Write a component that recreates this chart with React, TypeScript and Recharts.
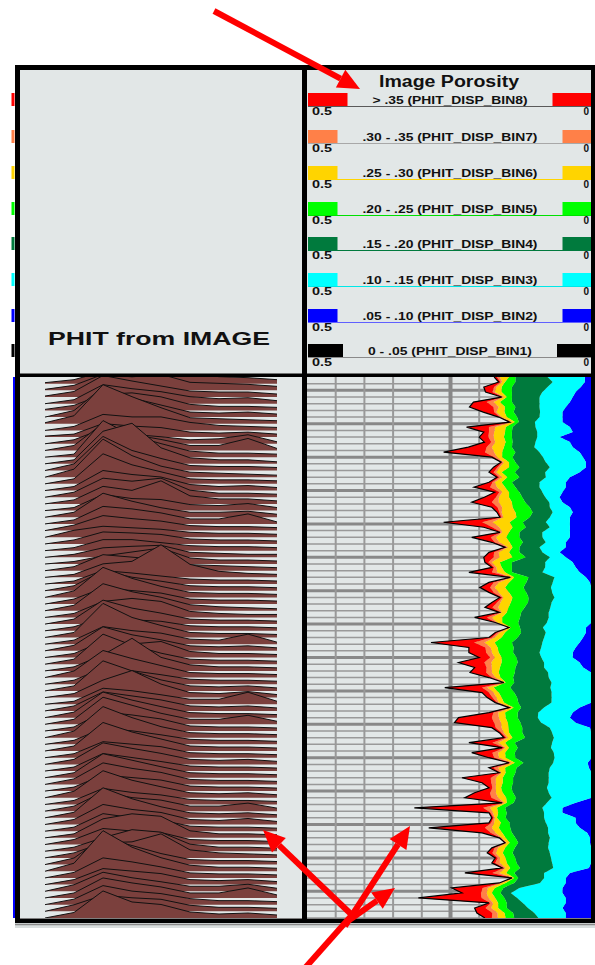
import { Area, ComposedChart, ReferenceLine, XAxis, YAxis } from "recharts";

// Depth window of the log (ft)
const TOP_DEPTH = 5346;
const BOTTOM_DEPTH = 5508;
const SAMPLE_STEP = 1.5;

// Image porosity bins (v/v), one value per depth sample, top to bottom
const bin2 = [
  0.016, 0.016, 0.023, 0.032, 0.037, 0.042, 0.049, 0.055, 0.055, 0.055, 0.042, 0.037, 0.06, 0.042, 0.037, 0.025, 0.019, 0.014, 0.014, 0.025,
  0.042, 0.049, 0.049, 0.055, 0.06, 0.055, 0.042, 0.037, 0.042, 0.042, 0.042, 0.042, 0.042, 0.049, 0.049, 0.06, 0.049, 0.037, 0.032, 0.025,
  0.014, 0.007, 0.005, 0.005, 0.004, 0.004, 0.004, 0.004, 0.004, 0.004, 0.014, 0.014, 0.019, 0.025, 0.032, 0.037, 0.037, 0.025, 0.019, 0.005,
  0.004, 0.004, 0.004, 0.004, 0.004, 0.004, 0.025, 0.037, 0.042, 0.032, 0.007, 0.005, 0.005, 0.005, 0.005, 0.005, 0.004, 0.011, 0.009, 0.004,
  0.004, 0.004, 0.004, 0.004, 0.004, 0.032, 0.055, 0.055, 0.032, 0.032, 0.025, 0.012, 0.007, 0.007, 0.005, 0.005, 0.005, 0.005, 0.009, 0.042,
  0.049, 0.049, 0.055, 0.055, 0.049, 0.049, 0.055, 0.049, 0.049,
];
const bin3 = [
  0.065, 0.056, 0.058, 0.058, 0.058, 0.053, 0.046, 0.039, 0.04, 0.048, 0.06, 0.062, 0.039, 0.06, 0.067, 0.07, 0.07, 0.07, 0.063, 0.06,
  0.042, 0.046, 0.046, 0.035, 0.025, 0.023, 0.035, 0.035, 0.035, 0.042, 0.035, 0.048, 0.048, 0.035, 0.046, 0.03, 0.028, 0.048, 0.053, 0.065,
  0.055, 0.065, 0.07, 0.068, 0.065, 0.07, 0.072, 0.075, 0.075, 0.078, 0.075, 0.07, 0.068, 0.065, 0.06, 0.058, 0.055, 0.062, 0.068, 0.075,
  0.075, 0.07, 0.072, 0.07, 0.07, 0.07, 0.062, 0.06, 0.056, 0.06, 0.07, 0.068, 0.065, 0.068, 0.07, 0.065, 0.065, 0.06, 0.068, 0.075,
  0.075, 0.075, 0.078, 0.075, 0.07, 0.05, 0.035, 0.032, 0.055, 0.052, 0.055, 0.068, 0.07, 0.072, 0.075, 0.072, 0.07, 0.068, 0.062, 0.045,
  0.038, 0.045, 0.075, 0.09, 0.085, 0.075, 0.06, 0.055, 0.048,
];
const bin4 = [
  0.056, 0.065, 0.062, 0.053, 0.048, 0.048, 0.042, 0.046, 0.039, 0.028, 0.04, 0.044, 0.044, 0.04, 0.039, 0.042, 0.053, 0.053, 0.053, 0.053,
  0.046, 0.048, 0.042, 0.04, 0.04, 0.042, 0.035, 0.035, 0.035, 0.04, 0.042, 0.04, 0.04, 0.04, 0.035, 0.04, 0.042, 0.058, 0.058, 0.053,
  0.045, 0.046, 0.048, 0.045, 0.045, 0.041, 0.045, 0.048, 0.05, 0.05, 0.04, 0.043, 0.046, 0.053, 0.048, 0.046, 0.043, 0.046, 0.05, 0.058,
  0.062, 0.065, 0.07, 0.065, 0.06, 0.058, 0.04, 0.036, 0.035, 0.036, 0.048, 0.052, 0.05, 0.065, 0.058, 0.068, 0.068, 0.052, 0.058, 0.058,
  0.062, 0.062, 0.062, 0.062, 0.062, 0.058, 0.065, 0.065, 0.067, 0.063, 0.066, 0.063, 0.06, 0.053, 0.058, 0.065, 0.062, 0.062, 0.058, 0.052,
  0.045, 0.045, 0.028, 0.018, 0.022, 0.028, 0.037, 0.037, 0.042,
];
const bin5 = [
  0.011, 0.018, 0.018, 0.018, 0.009, 0.021, 0.018, 0.016, 0.018, 0.007, 0.012, 0.012, 0.014, 0.012, 0.014, 0.023, 0.018, 0.011, 0.018, 0.023,
  0.021, 0.018, 0.018, 0.018, 0.023, 0.023, 0.03, 0.03, 0.023, 0.023, 0.023, 0.018, 0.023, 0.023, 0.012, 0.018, 0.023, 0.021, 0.018, 0.012,
  0.025, 0.03, 0.032, 0.03, 0.028, 0.03, 0.028, 0.025, 0.031, 0.028, 0.016, 0.028, 0.028, 0.03, 0.028, 0.025, 0.026, 0.028, 0.027, 0.028,
  0.022, 0.015, 0.029, 0.027, 0.027, 0.025, 0.013, 0.022, 0.021, 0.022, 0.024, 0.023, 0.022, 0.017, 0.015, 0.017, 0.017, 0.015, 0.02, 0.017,
  0.018, 0.018, 0.018, 0.018, 0.017, 0.012, 0.014, 0.015, 0.015, 0.015, 0.02, 0.017, 0.017, 0.015, 0.017, 0.017, 0.017, 0.017, 0.017, 0.014,
  0.007, 0.015, 0.015, 0.015, 0.016, 0.015, 0.015, 0.015, 0.015,
];
const bin6 = [
  0.016, 0.005, 0.009, 0.012, 0.005, 0.011, 0.011, 0.014, 0.009, 0.005, 0.018, 0.019, 0.018, 0.018, 0.021, 0.014, 0.009, 0.009, 0.016, 0.009,
  0.009, 0.012, 0.014, 0.012, 0.018, 0.023, 0.018, 0.024, 0.023, 0.03, 0.023, 0.012, 0.018, 0.018, 0.008, 0.018, 0.023, 0.014, 0.009, 0.014,
  0.004, 0.018, 0.018, 0.018, 0.016, 0.018, 0.018, 0.009, 0.018, 0.009, 0.001, 0.009, 0.012, 0.018, 0.012, 0.012, 0.012, 0.018, 0.014, 0.012,
  0.009, 0.001, 0.011, 0.009, 0.009, 0.009, 0.003, 0.012, 0.012, 0.012, 0.012, 0.009, 0.008, 0.012, 0.006, 0.012, 0.012, 0.005, 0.012, 0.008,
  0.012, 0.012, 0.009, 0.012, 0.014, 0.004, 0.012, 0.009, 0.004, 0.012, 0.012, 0.012, 0.007, 0.005, 0.012, 0.012, 0.01, 0.012, 0.008, 0.012,
  0.002, 0.007, 0.012, 0.009, 0.012, 0.009, 0.012, 0.012, 0.014,
];
const bin7 = [
  0.005, 0.003, 0.004, 0.004, 0.002, 0.012, 0.009, 0.004, 0.003, 0.002, 0.011, 0.009, 0.009, 0.007, 0.009, 0.016, 0.005, 0.003, 0.004, 0.005,
  0.005, 0.004, 0.012, 0.005, 0.005, 0.012, 0.008, 0.004, 0.003, 0.018, 0.012, 0.002, 0.009, 0.008, 0.002, 0.008, 0.01, 0.006, 0.004, 0.009,
  0.001, 0.009, 0.008, 0.009, 0.002, 0.006, 0.01, 0.002, 0.009, 0.002, 0.001, 0.004, 0.005, 0.018, 0.009, 0.01, 0.008, 0.012, 0.009, 0.01,
  0.006, 0.001, 0.009, 0.008, 0.007, 0.003, 0.001, 0.008, 0.012, 0.012, 0.01, 0.004, 0.003, 0.01, 0.002, 0.01, 0.008, 0.002, 0.008, 0.002,
  0.009, 0.008, 0.006, 0.01, 0.012, 0.002, 0.012, 0.004, 0.002, 0.005, 0.012, 0.008, 0.002, 0.002, 0.006, 0.006, 0.004, 0.008, 0.003, 0.012,
  0.001, 0.002, 0.009, 0.01, 0.012, 0.004, 0.01, 0.009, 0.01,
];
const bin8 = [
  0.005, 0.003, 0.018, 0.012, 0.002, 0.023, 0.042, 0.019, 0.002, 0.002, 0.039, 0.009, 0.016, 0.012, 0.032, 0.072, 0.004, 0.002, 0.007, 0.008,
  0.004, 0.006, 0.028, 0.008, 0.02, 0.035, 0.01, 0.004, 0.003, 0.067, 0.015, 0.002, 0.033, 0.005, 0.003, 0.009, 0.017, 0.006, 0.004, 0.04,
  0.002, 0.008, 0.018, 0.008, 0.004, 0.009, 0.013, 0.002, 0.021, 0.001, 0.001, 0.004, 0.005, 0.075, 0.029, 0.03, 0.019, 0.045, 0.021, 0.028,
  0.005, 0.001, 0.065, 0.012, 0.009, 0.003, 0.004, 0.008, 0.058, 0.069, 0.007, 0.004, 0.004, 0.041, 0.004, 0.036, 0.009, 0.003, 0.008, 0.001,
  0.05, 0.016, 0.006, 0.027, 0.046, 0.002, 0.12, 0.003, 0.003, 0.004, 0.098, 0.015, 0.002, 0.001, 0.005, 0.009, 0.004, 0.006, 0.003, 0.048,
  0.001, 0.002, 0.054, 0.033, 0.11, 0.003, 0.019, 0.027, 0.012,
];

// Grid values for the image porosity track
const porosityTicks = [0.05, 0.1, 0.15, 0.2, 0.3, 0.35, 0.4, 0.45];
const porosityMajor = [0.25];
const majorDepths = [5350, 5360, 5370, 5380, 5390, 5400, 5410, 5420, 5430, 5440, 5450, 5460, 5470, 5480, 5490, 5500];
const minorDepths: number[] = [];
for (let d = 5348; d <= BOTTOM_DEPTH; d += 2) if (!majorDepths.includes(d)) minorDepths.push(d);

// PHIT from IMAGE: porosity histogram per depth frame (fraction in each bin)
const ridgeBins = [0, 0.05, 0.1, 0.15, 0.2, 0.25, 0.3, 0.35, 0.4];
const RIDGE_TOP = 5348;
const RIDGE_STEP = 2;
const RIDGE_GAIN = 30; // ft of display height per unit fraction
const ridges: number[][] = [
  [0.01, 0.04, 0.12, 0.16, 0.19, 0.1, 0.07, 0.06, 0.04],
  [0.01, 0.05, 0.16, 0.135, 0.16, 0.08, 0.07, 0.06, 0.04],
  [0.01, 0.055, 0.215, 0.16, 0.11, 0.06, 0.05, 0.05, 0.03],
  [0, 0.04, 0.19, 0.15, 0.12, 0.07, 0.05, 0.06, 0.03],
  [0.01, 0.05, 0.16, 0.175, 0.135, 0.06, 0.04, 0.04, 0.03],
  [0, 0.065, 0.3, 0.19, 0.12, 0.05, 0.04, 0.05, 0.03],
  [0.01, 0.08, 0.39, 0.27, 0.16, 0.06, 0.05, 0.04, 0.03],
  [0, 0.04, 0.16, 0.135, 0.135, 0.08, 0.05, 0.04, 0.03],
  [0.01, 0.03, 0.135, 0.11, 0.095, 0.05, 0.04, 0.05, 0.03],
  [0, 0.04, 0.15, 0.095, 0.07, 0.04, 0.05, 0.09, 0.02],
  [0, 0.05, 0.27, 0.16, 0.11, 0.05, 0.05, 0.12, 0.02],
  [0, 0.03, 0.365, 0.215, 0.135, 0.06, 0.04, 0.04, 0.03],
  [0, 0.04, 0.325, 0.405, 0.16, 0.06, 0.04, 0.04, 0.02],
  [0, 0.065, 0.34, 0.2, 0.12, 0.05, 0.04, 0.04, 0.03],
  [0, 0.08, 0.38, 0.215, 0.11, 0.05, 0.04, 0.03, 0.02],
  [0, 0.05, 0.3, 0.19, 0.12, 0.05, 0.04, 0.04, 0.03],
  [0, 0.04, 0.2, 0.16, 0.135, 0.06, 0.04, 0.05, 0.03],
  [0, 0.05, 0.19, 0.16, 0.19, 0.07, 0.04, 0.04, 0.03],
  [0, 0.04, 0.175, 0.135, 0.23, 0.08, 0.05, 0.05, 0.03],
  [0, 0.03, 0.16, 0.12, 0.11, 0.06, 0.05, 0.07, 0.03],
  [0, 0.05, 0.24, 0.16, 0.095, 0.05, 0.05, 0.06, 0.03],
  [0, 0.04, 0.175, 0.15, 0.11, 0.05, 0.05, 0.1, 0.02],
  [0, 0.055, 0.15, 0.12, 0.095, 0.05, 0.04, 0.04, 0.03],
  [0, 0.07, 0.11, 0.095, 0.08, 0.05, 0.04, 0.04, 0.03],
  [0, 0.04, 0.12, 0.11, 0.095, 0.05, 0.04, 0.04, 0.03],
  [0, 0.03, 0.11, 0.11, 0.08, 0.05, 0.04, 0.04, 0.03],
  [0, 0.03, 0.095, 0.11, 0.12, 0.05, 0.04, 0.03, 0.03],
  [0, 0.025, 0.08, 0.12, 0.16, 0.06, 0.04, 0.04, 0.03],
  [0, 0.04, 0.16, 0.135, 0.11, 0.06, 0.05, 0.04, 0.03],
  [0, 0.03, 0.135, 0.16, 0.325, 0.13, 0.06, 0.04, 0.03],
  [0, 0.03, 0.135, 0.11, 0.08, 0.05, 0.04, 0.04, 0.03],
  [0, 0.05, 0.2, 0.135, 0.095, 0.05, 0.04, 0.04, 0.03],
  [0, 0.065, 0.3, 0.19, 0.11, 0.05, 0.04, 0.04, 0.03],
  [0, 0.05, 0.16, 0.135, 0.11, 0.05, 0.04, 0.04, 0.03],
  [0, 0.055, 0.27, 0.19, 0.135, 0.06, 0.04, 0.03, 0.02],
  [0, 0.04, 0.16, 0.19, 0.16, 0.06, 0.04, 0.03, 0.03],
  [0, 0.05, 0.24, 0.16, 0.11, 0.05, 0.04, 0.04, 0.03],
  [0, 0.04, 0.135, 0.11, 0.095, 0.05, 0.04, 0.04, 0.03],
  [0, 0.05, 0.34, 0.2, 0.12, 0.05, 0.04, 0.04, 0.03],
  [0, 0.04, 0.175, 0.135, 0.11, 0.05, 0.04, 0.1, 0.02],
  [0, 0.055, 0.24, 0.16, 0.11, 0.05, 0.04, 0.05, 0.03],
  [0, 0.04, 0.16, 0.135, 0.16, 0.06, 0.04, 0.04, 0.03],
  [0, 0.05, 0.3, 0.19, 0.11, 0.05, 0.04, 0.04, 0.03],
  [0, 0.04, 0.16, 0.325, 0.135, 0.06, 0.04, 0.04, 0.03],
  [0, 0.065, 0.27, 0.19, 0.12, 0.05, 0.04, 0.04, 0.03],
  [0, 0.04, 0.16, 0.135, 0.095, 0.05, 0.04, 0.04, 0.03],
  [0, 0.05, 0.3, 0.2, 0.11, 0.05, 0.04, 0.05, 0.03],
  [0, 0.04, 0.175, 0.27, 0.135, 0.05, 0.04, 0.06, 0.03],
  [0, 0.03, 0.16, 0.135, 0.095, 0.05, 0.05, 0.12, 0.03],
  [0, 0.05, 0.19, 0.15, 0.11, 0.05, 0.04, 0.05, 0.03],
  [0, 0.055, 0.255, 0.175, 0.11, 0.05, 0.04, 0.04, 0.03],
  [0, 0.05, 0.27, 0.19, 0.11, 0.05, 0.05, 0.09, 0.03],
  [0, 0.04, 0.19, 0.16, 0.12, 0.05, 0.04, 0.04, 0.03],
  [0, 0.065, 0.31, 0.2, 0.11, 0.05, 0.04, 0.04, 0.03],
  [0, 0.04, 0.16, 0.135, 0.095, 0.05, 0.04, 0.04, 0.03],
  [0, 0.05, 0.285, 0.19, 0.12, 0.05, 0.04, 0.04, 0.03],
  [0, 0.04, 0.16, 0.135, 0.11, 0.05, 0.04, 0.04, 0.03],
  [0, 0.05, 0.215, 0.16, 0.11, 0.05, 0.04, 0.05, 0.03],
  [0, 0.04, 0.175, 0.135, 0.095, 0.05, 0.04, 0.04, 0.03],
  [0, 0.05, 0.24, 0.175, 0.11, 0.05, 0.04, 0.04, 0.03],
  [0, 0.055, 0.215, 0.16, 0.12, 0.05, 0.04, 0.04, 0.03],
  [0, 0.04, 0.16, 0.135, 0.11, 0.05, 0.04, 0.04, 0.03],
  [0, 0.065, 0.27, 0.175, 0.11, 0.05, 0.04, 0.05, 0.03],
  [0, 0.04, 0.16, 0.12, 0.095, 0.05, 0.04, 0.04, 0.03],
  [0, 0.05, 0.19, 0.135, 0.11, 0.05, 0.05, 0.08, 0.03],
  [0, 0.055, 0.3, 0.19, 0.11, 0.05, 0.04, 0.05, 0.03],
  [0, 0.05, 0.2, 0.15, 0.12, 0.05, 0.04, 0.06, 0.03],
  [0, 0.04, 0.175, 0.135, 0.11, 0.05, 0.04, 0.04, 0.03],
  [0, 0.04, 0.19, 0.24, 0.215, 0.07, 0.04, 0.04, 0.03],
  [0, 0.05, 0.16, 0.135, 0.12, 0.05, 0.04, 0.04, 0.03],
  [0, 0.04, 0.135, 0.215, 0.19, 0.07, 0.04, 0.04, 0.03],
  [0, 0.05, 0.15, 0.16, 0.24, 0.08, 0.05, 0.04, 0.03],
  [0, 0.065, 0.27, 0.19, 0.11, 0.05, 0.04, 0.04, 0.03],
  [0, 0.08, 0.405, 0.24, 0.135, 0.06, 0.04, 0.04, 0.03],
  [0, 0.055, 0.2, 0.16, 0.11, 0.05, 0.04, 0.04, 0.03],
  [0, 0.05, 0.16, 0.135, 0.11, 0.05, 0.04, 0.05, 0.03],
  [0, 0.065, 0.19, 0.135, 0.095, 0.05, 0.05, 0.07, 0.03],
  [0, 0.05, 0.2, 0.15, 0.11, 0.05, 0.05, 0.1, 0.03],
  [0, 0.055, 0.19, 0.135, 0.11, 0.06, 0.04, 0.04, 0.03],
  [0, 0.065, 0.16, 0.135, 0.12, 0.06, 0.04, 0.04, 0.03],
  [0, 0.055, 0.27, 0.16, 0.135, 0.06, 0.04, 0.05, 0.03],
];

// Header legend
const legendLabels = [
  "> .35 (PHIT_DISP_BIN8)",
  ".30 - .35 (PHIT_DISP_BIN7)",
  ".25 - .30 (PHIT_DISP_BIN6)",
  ".20 - .25 (PHIT_DISP_BIN5)",
  ".15 - .20 (PHIT_DISP_BIN4)",
  ".10 - .15 (PHIT_DISP_BIN3)",
  ".05 - .10 (PHIT_DISP_BIN2)",
  "0 - .05 (PHIT_DISP_BIN1)",
];
const scaleLeftLabel = "0.5";
const scaleRightLabel = "0";

const swatchColors = ["#FF0000", "#FF8048", "#FFD400", "#00FF00", "#007A3D", "#00FFFF", "#0000FF", "#000000"];
const ruleColors = ["#5A5A5A", "#A8A8A8", "#FFD400", "#00E000", "#007A3D", "#00E8E8", "#6060FF", "#8A8A8A"];
const labelWidths = [155, 175, 175, 175, 175, 175, 175, 164];
const rowTops = [93, 130, 166, 202, 237, 273, 309, 344];

const binSeries = [
  { key: "bin2", color: "#0000FF" },
  { key: "bin3", color: "#00FFFF" },
  { key: "bin4", color: "#007A3D" },
  { key: "bin5", color: "#00FF00" },
  { key: "bin6", color: "#FFD400" },
  { key: "bin7", color: "#FF8048" },
  { key: "bin8", color: "#FF0000" },
];

const PANEL = "#E2E7E7";
const FONT = "'Liberation Sans', Arial, sans-serif";
const DATA_TOP = 377;
const DATA_H = 541;

const trackRows = bin2.map((_, k) => ({
  depth: TOP_DEPTH + SAMPLE_STEP * k,
  bin2: bin2[k],
  bin3: bin3[k],
  bin4: bin4[k],
  bin5: bin5[k],
  bin6: bin6[k],
  bin7: bin7[k],
  bin8: bin8[k],
}));

const ridgeBase = (i: number) => RIDGE_TOP + RIDGE_STEP * i;
const ridgeRows = ridgeBins.map((bin, j) => {
  const row: Record<string, number> = { bin };
  ridges.forEach((h, i) => {
    row[`r${i}`] = ridgeBase(i) - h[j] * RIDGE_GAIN;
  });
  return row;
});

function Arrow({ from, to, head = true }: { from: [number, number]; to: [number, number]; head?: boolean }) {
  const dx = to[0] - from[0];
  const dy = to[1] - from[1];
  const len = Math.hypot(dx, dy);
  const ux = dx / len;
  const uy = dy / len;
  const L = 22;
  const W = 10;
  const bx = to[0] - ux * L;
  const by = to[1] - uy * L;
  return (
    <g>
      <line x1={from[0]} y1={from[1]} x2={head ? bx : to[0]} y2={head ? by : to[1]} stroke="#FF0000" strokeWidth={6} />
      {head && (
        <polygon points={`${to[0]},${to[1]} ${bx - uy * W},${by + ux * W} ${bx + uy * W},${by - ux * W}`} fill="#FF0000" />
      )}
    </g>
  );
}

function TrackAxes() {
  return (
    <>
      <XAxis type="number" domain={[0, 0.5]} reversed hide allowDataOverflow />
      <YAxis type="number" dataKey="depth" domain={[TOP_DEPTH, BOTTOM_DEPTH]} hide allowDataOverflow />
    </>
  );
}

export default function App() {
  return (
    <div style={{ position: "absolute", left: 0, top: 0, width: 595, height: 965, background: "#fff", overflow: "hidden" }}>
      <svg width={595} height={965} style={{ position: "absolute", left: 0, top: 0 }}>
        <rect x={20} y={DATA_TOP} width={282} height={DATA_H} fill={PANEL} />
        <rect x={307} y={DATA_TOP} width={284} height={DATA_H} fill={PANEL} />
      </svg>

      {/* PHIT from IMAGE histograms */}
      <div style={{ position: "absolute", left: 20, top: DATA_TOP }}>
        <ComposedChart width={282} height={DATA_H} data={ridgeRows} margin={{ top: 0, right: 25, bottom: 0, left: 25 }}>
          <XAxis type="number" dataKey="bin" domain={[0, 0.4]} hide allowDataOverflow />
          <YAxis type="number" domain={[TOP_DEPTH, BOTTOM_DEPTH]} reversed hide allowDataOverflow />
          {ridges.map((_, i) => (
            <Area
              key={i}
              dataKey={`r${i}`}
              baseValue={ridgeBase(i)}
              type="linear"
              fill="#7B403D"
              fillOpacity={1}
              stroke="#111"
              strokeWidth={1}
              dot={false}
              activeDot={false}
              isAnimationActive={false}
            />
          ))}
        </ComposedChart>
      </div>

      {/* Image porosity grid */}
      <div style={{ position: "absolute", left: 307, top: DATA_TOP }}>
        <ComposedChart width={287} height={DATA_H} data={trackRows} layout="vertical" margin={{ top: 0, right: 0, bottom: 0, left: 0 }}>
          {TrackAxes()}
          {minorDepths.map((d) => (
            <ReferenceLine key={`m${d}`} y={d} stroke="#999" strokeWidth={1.5} />
          ))}
          {majorDepths.map((d) => (
            <ReferenceLine key={`M${d}`} y={d} stroke="#888" strokeWidth={3} />
          ))}
          {porosityTicks.map((p) => (
            <ReferenceLine key={`p${p}`} x={p} stroke="#999" strokeWidth={2} />
          ))}
          {porosityMajor.map((p) => (
            <ReferenceLine key={`P${p}`} x={p} stroke="#888" strokeWidth={4} />
          ))}
        </ComposedChart>
      </div>

      {/* Image porosity bins */}
      <div style={{ position: "absolute", left: 307, top: DATA_TOP }}>
        <ComposedChart width={287} height={DATA_H} data={trackRows} layout="vertical" margin={{ top: 0, right: 0, bottom: 0, left: 0 }}>
          {TrackAxes()}
          {binSeries.map((s) => (
            <Area
              key={s.key}
              dataKey={s.key}
              stackId="phit"
              type="linear"
              fill={s.color}
              fillOpacity={1}
              stroke={s.key === "bin8" ? "#000" : "none"}
              strokeWidth={1.2}
              dot={false}
              activeDot={false}
              isAnimationActive={false}
            />
          ))}
        </ComposedChart>
      </div>

      <svg width={595} height={965} style={{ position: "absolute", left: 0, top: 0, pointerEvents: "none" }}>
        {/* header panels */}
        <rect x={20} y={70} width={282} height={304} fill={PANEL} />
        <rect x={307} y={70} width={284} height={304} fill={PANEL} />

        <text x={159} y={345} fontFamily={FONT} fontWeight="bold" fontSize={18} textAnchor="middle" textLength={222} lengthAdjust="spacingAndGlyphs" fill="#111">
          PHIT from IMAGE
        </text>
        <text x={449} y={87} fontFamily={FONT} fontWeight="bold" fontSize={16} textAnchor="middle" textLength={140} lengthAdjust="spacingAndGlyphs" fill="#111">
          Image Porosity
        </text>

        {legendLabels.map((label, i) => {
          const top = rowTops[i];
          const half = labelWidths[i] / 2 + 25;
          return (
            <g key={label}>
              <rect x={308} y={top} width={450 - half - 308} height={13} fill={swatchColors[i]} />
              <rect x={450 + half} y={top} width={591 - 450 - half} height={13} fill={swatchColors[i]} />
              <line x1={308} x2={591} y1={top + 13.5} y2={top + 13.5} stroke={ruleColors[i]} strokeWidth={1.2} />
              <text x={450} y={top + 11} fontFamily={FONT} fontWeight="bold" fontSize={11} textAnchor="middle" textLength={labelWidths[i]} lengthAdjust="spacingAndGlyphs" fill="#111">
                {label}
              </text>
              <text x={312} y={top + 22} fontFamily={FONT} fontWeight="bold" fontSize={10} textLength={20} lengthAdjust="spacingAndGlyphs" fill="#111">
                {scaleLeftLabel}
              </text>
              <text x={589} y={top + 22} fontFamily={FONT} fontWeight="bold" fontSize={10} textAnchor="end" fill="#111">
                {scaleRightLabel}
              </text>
              <rect x={11.5} y={top} width={3} height={13} fill={swatchColors[i]} />
            </g>
          );
        })}

        {/* frame */}
        <rect x={13} y={DATA_TOP} width={2} height={DATA_H} fill="#0000FF" />
        <rect x={15} y={65} width={580} height={5} fill="#000" />
        <rect x={15} y={65} width={5} height={858} fill="#000" />
        <rect x={302} y={65} width={5} height={858} fill="#000" />
        <rect x={591} y={65} width={4} height={858} fill="#000" />
        <rect x={15} y={373.5} width={580} height={3.5} fill="#000" />
        <rect x={15} y={918.5} width={580} height={4.5} fill="#000" />
        <rect x={15} y={923} width={580} height={5} fill="#D9DEDE" />
        <line x1={15} x2={595} y1={924.5} y2={924.5} stroke="#8A8A8A" strokeWidth={1.5} />

        {/* annotations */}
        <Arrow from={[214, 11]} to={[360, 89]} />
        <Arrow from={[305, 968]} to={[352, 915]} head={false} />
        <Arrow from={[353, 916]} to={[263, 830]} />
        <Arrow from={[345, 926]} to={[410, 826]} />
        <Arrow from={[348, 921]} to={[395, 888]} />
      </svg>
    </div>
  );
}
